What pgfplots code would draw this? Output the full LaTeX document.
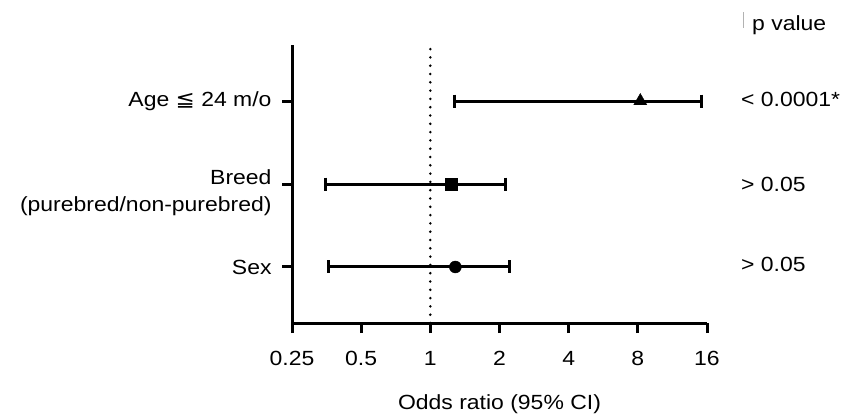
\documentclass[border=0pt]{standalone}
\usepackage{fontspec}
\setmainfont{Liberation Sans}[FakeStretch=1.12]
\newfontfamily\dejavu{DejaVu Sans}[FakeStretch=1.12]
\usepackage{pgfplots}
\pgfplotsset{compat=1.18}
\begin{document}
\begin{tikzpicture}[x=1pt,y=1pt,font=\fontsize{20.5}{27}\selectfont]
\path[use as bounding box] (0,0) rectangle (842,416);
\begin{axis}[
 at={(292pt,93pt)}, anchor=south west,
 scale only axis, width=415pt, height=278pt,
 xmode=log, log basis x=2,
 xmin=0.25, xmax=16, ymin=0.325, ymax=3.675,
 axis x line=bottom, axis y line=left,
 axis line style={-, line width=3pt, black},
 xtick={0.25,0.5,1,2,4,8,16},
 xticklabels={0.25,0.5,1,2,4,8,16},
 xticklabel style={yshift=-15pt},
 ytick={1,3},
 yticklabels={Sex,{Age {\dejavu ≦} 24 m/o}},
 yticklabel style={align=right, xshift=-7pt},
 extra y ticks={2},
 extra y tick labels={{Breed\\(purebred/non-purebred)}},
 extra y tick style={yticklabel style={yshift=-9pt}},
 tick align=outside, major tick length=10pt,
 every tick/.style={black, line width=3pt},
 /pgf/number format/assume math mode=true,
 xlabel={Odds ratio (95\% CI)},
 xlabel style={yshift=-22pt},
 clip=false,
]
\addplot[black, line width=2.8pt, line cap=round, dash pattern=on 0pt off 8.3pt] coordinates {(1,0.325) (1,3.675)};
\addplot[black, line width=3pt] coordinates {(1.28,3) (15.1,3)};
\addplot[black, line width=3pt] coordinates {(0.349,2) (2.12,2)};
\addplot[black, line width=3pt] coordinates {(0.36,1) (2.21,1)};
\addplot[black, only marks, mark=|, mark size=6.5pt, mark options={line width=3pt}] coordinates {(1.28,3) (15.1,3) (0.349,2) (2.12,2) (0.36,1) (2.21,1)};
\addplot[black, only marks, mark=triangle*, mark size=7.5pt] coordinates {(8.2,3)};
\addplot[black, only marks, mark=square*, mark size=5.8pt] coordinates {(1.23,2)};
\addplot[black, only marks, mark=*, mark size=6pt] coordinates {(1.285,1)};
\end{axis}
\draw[black!30, line width=0.8pt] (743,388) -- (743,404);
\node[anchor=west, inner sep=0pt] at (752,390.5) {p value};
\node[anchor=west, inner sep=0pt] at (741,317) {< 0.0001*};
\node[anchor=west, inner sep=0pt] at (741,231.3) {> 0.05};
\node[anchor=west, inner sep=0pt] at (741,151.3) {> 0.05};
\end{tikzpicture}
\end{document}
